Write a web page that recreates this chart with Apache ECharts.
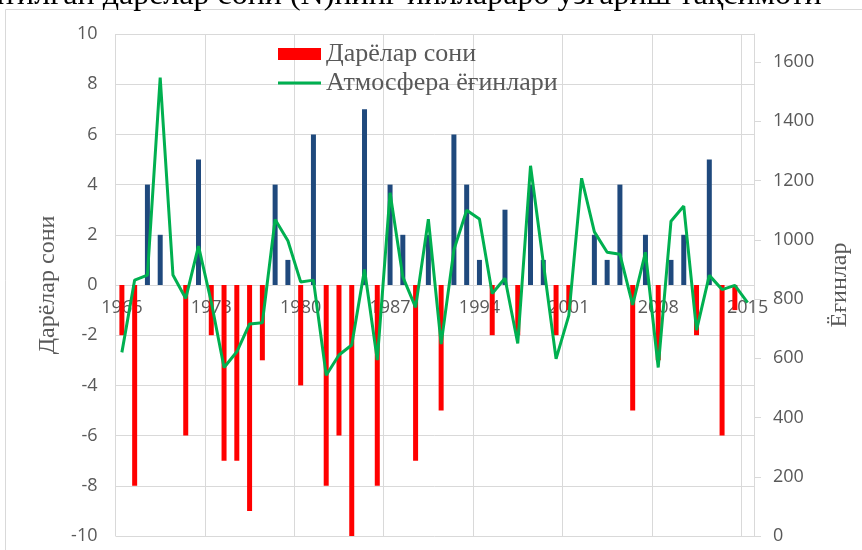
<!DOCTYPE html>
<html>
<head>
<meta charset="utf-8">
<script src="https://cdn.jsdelivr.net/npm/echarts@6/dist/echarts.min.js"></script>
<style>
html,body{margin:0;padding:0;background:#fff;}
#chart{width:862px;height:550px;}
</style>
</head>
<body>
<div id="chart"></div>
<script>
const years = ['1966','1967','1968','1969','1970','1971','1972','1973','1974','1975',
  '1976','1977','1978','1979','1980','1981','1982','1983','1984','1985',
  '1986','1987','1988','1989','1990','1991','1992','1993','1994','1995',
  '1996','1997','1998','1999','2000','2001','2002','2003','2004','2005',
  '2006','2007','2008','2009','2010','2011','2012','2013','2014','2015'];
const riverCount = [-2,-8,4,2,0,-6,5,-2,-7,-7,
  -9,-3,4,1,-4,6,-8,-6,-10,7,
  -8,4,2,-7,2,-5,6,4,1,-2,
  3,-2,4,1,-2,-1,0,2,1,4,
  -5,2,-3,1,2,-2,5,-6,-1,0];
const precipitation = [620,864,881,1548,881,802,979,790,569,622,
  716,720,1069,997,858,864,543,611,645,900,
  594,1159,875,772,1070,648,966,1100,1070,819,
  870,650,1250,923,598,745,1208,1027,958,951,
  780,958,569,1063,1114,695,880,832,846,788];
const leftTicks = [-10,-8,-6,-4,-2,0,2,4,6,8,10];
const rightTicks = [0,200,400,600,800,1000,1200,1400,1600];

const seriesNames = ['Дарёлар сони', 'Атмосфера ёғинлари'];
const titleText = 'кузатилган дарёлар сони (N)нинг йиллараро ўзгариш тақсимоти';

const gridColor = '#d9d9d9';
const labelColor = '#595959';
const sansFont = '"Open Sans", "Liberation Sans", sans-serif';
const serifFont = '"Liberation Serif", "DejaVu Serif", serif';

const gridTop = 34, gridBottom = 14, chartH = 550;
const plotH = chartH - gridTop - gridBottom;
const zeroOffset = plotH * (0 - (-10)) / (10 - (-10));

// thin horizontal line icon for the line-series legend entry (box 43x12)
const lineIcon = 'path://M0,0L43,0L43,0.01L0,0.01Z M0,4.5L43,4.5L43,7.5L0,7.5Z M0,11.99L43,11.99L43,12L0,12Z';

const chart = echarts.init(document.getElementById('chart'));
chart.setOption({
  animation: false,
  backgroundColor: '#fff',
  graphic: [
    { type: 'rect', shape: { x: 5.5, y: 9.5, width: 900, height: 600 },
      style: { fill: 'none', stroke: gridColor, lineWidth: 1 }, silent: true, z: -10 },
    { type: 'text', x: -54, y: -20,
      style: { text: titleText, font: '32px ' + serifFont, fill: '#000', verticalAlign: 'top' } }
  ],
  grid: { left: 115.5, right: 108, top: gridTop, bottom: gridBottom, containLabel: false },
  legend: {
    orient: 'vertical',
    left: 278, top: 41, padding: 0,
    itemWidth: 43, itemHeight: 12, itemGap: 3,
    textStyle: { fontFamily: serifFont, fontSize: 26, color: labelColor },
    data: [ { name: seriesNames[0], icon: 'rect' },
            { name: seriesNames[1], icon: lineIcon, itemStyle: { color: '#00B050' } } ]
  },
  xAxis: {
    type: 'category',
    data: years,
    boundaryGap: true,
    offset: -zeroOffset,
    axisLine: { show: true, onZero: false, lineStyle: { color: gridColor, width: 1 } },
    axisTick: { show: false },
    axisLabel: { interval: 6, color: labelColor, fontFamily: sansFont, fontSize: 18, margin: 14 },
    splitLine: { show: true, interval: 6, lineStyle: { color: gridColor, width: 1 } }
  },
  yAxis: [
    {
      type: 'value', min: -10, max: 10, interval: 2, position: 'left',
      name: 'Дарёлар сони', nameLocation: 'middle', nameGap: 56, nameRotate: 90,
      nameTextStyle: { fontFamily: serifFont, fontSize: 24, color: labelColor },
      axisLine: { show: false }, axisTick: { show: false },
      axisLabel: { color: labelColor, fontFamily: sansFont, fontSize: 18, margin: 18,
        customValues: leftTicks },
      splitLine: { show: true, lineStyle: { color: gridColor, width: 1 } }
    },
    {
      type: 'value', min: 0, max: 1695, interval: 200, position: 'right',
      name: 'Ёғинлар', nameLocation: 'middle', nameGap: 74, nameRotate: 90,
      nameTextStyle: { fontFamily: serifFont, fontSize: 24, color: labelColor },
      axisLine: { show: true, lineStyle: { color: gridColor, width: 1 } },
      axisTick: { show: true, length: 7, inside: false, lineStyle: { color: gridColor }, customValues: rightTicks },
      axisLabel: { color: labelColor, fontFamily: sansFont, fontSize: 18, margin: 19,
        customValues: rightTicks, formatter: v => String(v) },
      splitLine: { show: false }
    }
  ],
  series: [
    {
      name: seriesNames[0], type: 'bar', yAxisIndex: 0, barWidth: 5,
      itemStyle: { color: '#FF0000' },
      data: riverCount.map(v => v >= 0 ? { value: v, itemStyle: { color: '#1F497D' } } : v),
      z: 2
    },
    {
      name: seriesNames[1], type: 'line', yAxisIndex: 1, symbol: 'none',
      lineStyle: { color: '#00B050', width: 3 },
      itemStyle: { color: '#00B050' },
      data: precipitation, z: 3
    }
  ]
});
</script>
</body>
</html>
